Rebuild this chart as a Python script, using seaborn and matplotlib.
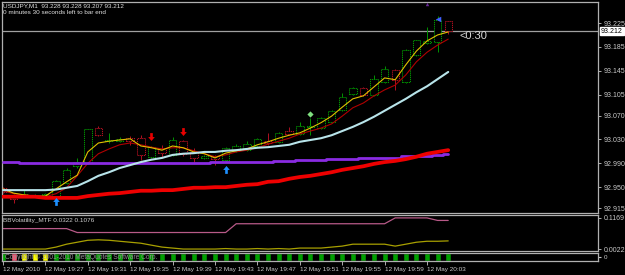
import numpy as np
import pandas as pd
import matplotlib
matplotlib.use("Agg")
import matplotlib.pyplot as plt
import seaborn as sns
from matplotlib.path import Path

# ---- data (USDJPY M1, 19:23 .. 20:05) ----
opens = [92.949, 92.937, 92.935, 92.935, 92.937, 92.935, 92.957, 92.985, 92.990, 93.049,
         93.028, 93.027, 93.032, 93.032, 93.001, 93.016, 93.004, 93.027, 93.009, 92.999,
         93.002, 92.996, 93.011, 93.012, 93.019, 93.027, 93.026, 93.044, 93.039, 93.051,
         93.049, 93.059, 93.079, 93.106, 93.116, 93.104, 93.126, 93.146, 93.126, 93.171,
         93.191, 93.193, 93.228]
highs = [92.950, 92.939, 92.945, 92.939, 92.940, 92.962, 92.982, 92.999, 93.047, 93.052,
         93.041, 93.034, 93.036, 93.037, 93.019, 93.021, 93.034, 93.029, 93.016, 93.004,
         93.004, 93.017, 93.022, 93.027, 93.032, 93.041, 93.042, 93.051, 93.059, 93.066,
         93.068, 93.079, 93.108, 93.118, 93.118, 93.138, 93.153, 93.148, 93.181, 93.197,
         93.218, 93.237, 93.228]
lows = [92.940, 92.924, 92.934, 92.934, 92.935, 92.934, 92.955, 92.982, 92.989, 93.036,
        93.024, 93.026, 93.021, 92.996, 92.999, 93.001, 93.002, 93.002, 92.992, 92.997,
        92.987, 92.992, 93.009, 93.011, 93.017, 93.021, 93.024, 93.037, 93.037, 93.037,
        93.047, 93.058, 93.078, 93.104, 93.103, 93.103, 93.125, 93.113, 93.125, 93.170,
        93.190, 93.176, 93.207]
closes = [92.942, 92.930, 92.939, 92.936, 92.939, 92.960, 92.979, 92.992, 93.047, 93.037,
          93.029, 93.031, 93.027, 93.004, 93.017, 93.007, 93.029, 93.006, 92.999, 93.002,
          92.997, 93.016, 93.019, 93.022, 93.031, 93.024, 93.041, 93.039, 93.052, 93.052,
          93.066, 93.078, 93.101, 93.116, 93.104, 93.131, 93.148, 93.130, 93.180, 93.197,
          93.195, 93.230, 93.212]

ma_fast = [92.947, 92.940, 92.937, 92.935, 92.935, 92.947, 92.959, 92.970, 93.009, 93.024,
           93.027, 93.029, 93.031, 93.019, 93.016, 93.012, 93.019, 93.016, 93.009, 93.006,
           92.999, 93.007, 93.011, 93.014, 93.021, 93.026, 93.032, 93.037, 93.041, 93.049,
           93.058, 93.069, 93.084, 93.098, 93.103, 93.118, 93.133, 93.130, 93.155, 93.178,
           93.195, 93.205, 93.210]
ma_mid = [92.944, 92.939, 92.937, 92.935, 92.934, 92.939, 92.949, 92.969, 92.990, 93.006,
          93.014, 93.021, 93.024, 93.021, 93.017, 93.014, 93.016, 93.016, 93.011, 93.006,
          93.001, 93.004, 93.009, 93.012, 93.016, 93.022, 93.027, 93.032, 93.039, 93.044,
          93.049, 93.056, 93.069, 93.083, 93.091, 93.103, 93.113, 93.121, 93.138, 93.160,
          93.176, 93.188, 93.198]
ma_slow = [92.945, 92.945, 92.945, 92.945, 92.945, 92.946, 92.949, 92.952, 92.960, 92.969,
           92.975, 92.982, 92.987, 92.992, 92.996, 92.999, 93.004, 93.006, 93.007, 93.009,
           93.009, 93.011, 93.012, 93.014, 93.016, 93.017, 93.019, 93.021, 93.026, 93.029,
           93.032, 93.037, 93.044, 93.051, 93.059, 93.068, 93.078, 93.088, 93.098, 93.109,
           93.119, 93.131, 93.143]
ma_htf = [92.992, 92.992, 92.990, 92.990, 92.990, 92.990, 92.990, 92.990, 92.990, 92.990,
          92.990, 92.990, 92.990, 92.990, 92.990, 92.990, 92.990, 92.990, 92.990, 92.990,
          92.992, 92.992, 92.992, 92.992, 92.992, 92.992, 92.994, 92.994, 92.996, 92.996,
          92.996, 92.997, 92.997, 92.997, 92.999, 92.999, 92.999, 92.999, 93.002, 93.002,
          93.002, 93.004, 93.006]
ma_long = [92.934, 92.934, 92.934, 92.934, 92.932, 92.932, 92.932, 92.932, 92.935, 92.937,
           92.939, 92.940, 92.942, 92.944, 92.944, 92.945, 92.945, 92.947, 92.949, 92.949,
           92.950, 92.950, 92.952, 92.954, 92.955, 92.959, 92.960, 92.964, 92.967, 92.969,
           92.972, 92.975, 92.979, 92.982, 92.985, 92.989, 92.992, 92.994, 92.997, 93.001,
           93.006, 93.009, 93.012]

bbv_upper = [0.0775] * 7 + [0.0631] * 15 + [0.0954] * 15 + [0.1169] * 4 + [0.1076] * 2
bbv_lower = [0.0022, 0.0022, 0.0022, 0.0022, 0.0022, 0.0094, 0.0201, 0.0273, 0.0345, 0.0362,
             0.0345, 0.0309, 0.0273, 0.0237, 0.0165, 0.0094, 0.0058, 0.0022, 0.0022, 0.0022,
             0.0022, 0.0040, 0.0022, 0.0022, 0.0040, 0.0022, 0.0040, 0.0022, 0.0058, 0.0058,
             0.0058, 0.0094, 0.0130, 0.0201, 0.0201, 0.0201, 0.0201, 0.0130, 0.0201, 0.0273,
             0.0309, 0.0309, 0.0322]

block_colors = ['#00a000', '#ff5070', '#ffff00', '#ffff00', '#ffff00'] + ['#00a000'] * 38

sell_bars = [14, 17]
sell_prices = [93.034, 93.043]
buy_bars = [5, 21]
buy_prices = [92.927, 92.980]

price_ticks = [93.225, 93.185, 93.145, 93.105, 93.070, 93.030, 92.990, 92.950, 92.915]
bid = 93.212
time_bars = [0, 4, 8, 12, 16, 20, 24, 28, 32, 36, 40]
time_labels = ['12 May 2010', '12 May 19:27', '12 May 19:31', '12 May 19:35', '12 May 19:39',
               '12 May 19:43', '12 May 19:47', '12 May 19:51', '12 May 19:55', '12 May 19:59',
               '12 May 20:03']

# ---- style ----
sns.set_style("dark", {"axes.facecolor": "black", "figure.facecolor": "black"})
plt.rcParams['font.family'] = ['Liberation Sans', 'DejaVu Sans']

W, H = 625, 275
FG = '#c8c8c8'
fig = plt.figure(figsize=(W / 100, H / 100), dpi=100, facecolor='black')


def panel(left, top, right, bottom):
    a = fig.add_axes([left / W, 1 - bottom / H, (right - left) / W, (bottom - top) / H])
    a.set_facecolor('black')
    for s in a.spines.values():
        s.set_color('#b0b0b0')
        s.set_linewidth(0.9)
        s.set_visible(True)
    a.set_xlim(-0.094, 56.13)
    a.grid(False)
    return a


ax = panel(2, 2, 598, 213)
ax_ind = panel(2, 215, 598, 251)
ax_blk = panel(2, 253, 598, 261)

bars = np.arange(len(opens))
o, c = np.array(opens), np.array(closes)
cols = np.where(c >= o, '#009400', '#b01020')

# candles
ax.vlines(bars, lows, highs, colors=cols, lw=0.7, zorder=2)
ax.bar(bars, np.maximum(np.abs(c - o), 0.0004), bottom=np.minimum(o, c), width=0.7,
       facecolor='black', edgecolor=cols, linewidth=0.75, linestyle=(0, (1.2, 0.8)), zorder=2.5)

# moving averages
sns.lineplot(x=bars, y=ma_long, ax=ax, color='#ee0000', lw=2.7, zorder=5, legend=False)
sns.lineplot(x=bars, y=ma_htf, ax=ax, color='#8a2be2', lw=2.0, drawstyle='steps-mid',
             zorder=4, legend=False)
sns.lineplot(x=bars, y=ma_slow, ax=ax, color='#b8e4ea', lw=1.5, zorder=4, legend=False)
sns.lineplot(x=bars, y=ma_mid, ax=ax, color='#b00000', lw=0.8, zorder=3, legend=False)
sns.lineplot(x=bars, y=ma_fast, ax=ax, color='#e0c000', lw=0.8, zorder=3.2, legend=False)

# signal arrows
down = Path([(-0.3, 1), (0.3, 1), (0.3, 0.1), (0.75, 0.1), (0, -0.8), (-0.75, 0.1),
             (-0.3, 0.1), (-0.3, 1)], closed=True)
up = Path([(-0.3, -1), (0.3, -1), (0.3, -0.1), (0.75, -0.1), (0, 0.8), (-0.75, -0.1),
           (-0.3, -0.1), (-0.3, -1)], closed=True)
ax.scatter(sell_bars, sell_prices, marker=down, s=40, color='#e80000', zorder=6, lw=0)
ax.scatter(buy_bars, buy_prices, marker=up, s=40, color='#1e90ff', zorder=6, lw=0)
ax.scatter([29], [93.073], marker='D', s=10, color='#80e080', zorder=6, lw=0)
ax.scatter([41], [93.232], marker='<', s=16, color='#4060ff', zorder=6, lw=0)
ax.scatter([40], [93.257], marker='^', s=6, color='#6a2a9a', zorder=6, lw=0)

ax.axhline(bid, color='#a0a0a0', lw=0.9, zorder=1)
ax.set_ylim(92.9067, 93.2602)
ax.set_xticks([])
ax.yaxis.tick_right()
ax.set_yticks(price_ticks)
ax.set_yticklabels([f'{v:.3f}' for v in price_ticks])
ax.tick_params(axis='y', colors=FG, labelsize=5, length=2, width=0.6, pad=2, right=True, left=False)

# indicator panel
sns.lineplot(x=bars, y=bbv_upper, ax=ax_ind, color='#b85a88', lw=0.9, legend=False)
sns.lineplot(x=bars, y=bbv_lower, ax=ax_ind, color='#a8a000', lw=0.9, legend=False)
ax_ind.set_ylim(-0.0050, 0.1276)
ax_ind.set_xticks([])
ax_ind.yaxis.tick_right()
ax_ind.set_yticks([0.1169, 0.0022])
ax_ind.set_yticklabels(['0.1169', '0.0022'])
ax_ind.tick_params(axis='y', colors=FG, labelsize=5, length=2, width=0.6, pad=2, right=True, left=False)
ax_ind.spines['bottom'].set_linestyle((0, (2, 1)))

# block indicator panel
ax_blk.bar(bars, 0.7, bottom=0.15, width=0.38, color=block_colors, edgecolor=block_colors,
           linewidth=0.4)
ax_blk.set_ylim(0, 1)
ax_blk.set_yticks([0.5])
ax_blk.set_yticklabels(['0'])
ax_blk.yaxis.tick_right()
ax_blk.tick_params(axis='y', colors=FG, labelsize=4.5, length=2, pad=2, right=True, left=False)
ax_blk.set_xticks(time_bars)
ax_blk.set_xticklabels(time_labels, ha='left')
ax_blk.tick_params(axis='x', colors=FG, labelsize=4.6, length=3, width=0.6, pad=1, bottom=True)


def ftext(x, y, s, **kw):
    fig.text(x / W, 1 - y / H, s, va='center', ha='left', **kw)


ftext(3, 6, 'USDJPY,M1  93.228 93.228 93.207 93.212', color='#e0e0e0', fontsize=4.6)
ftext(3, 13, '0 minutes 30 seconds left to bar end', color='#e0e0e0', fontsize=4.6)
ftext(3, 220.5, 'BBVolatility_MTF 0.0322 0.1076', color='#d0d0d0', fontsize=4.6)
ftext(460, 36, '<0:30', color='#d8d8d8', fontsize=8)
ftext(5, 257.5, 'Copyright \u00a9 2001-2010 MetaQuotes Software Corp.', color='#909090',
      fontsize=4.8, zorder=10)
ftext(601, 31, f'{bid:.3f}', color='black', fontsize=5,
      bbox=dict(facecolor='white', edgecolor='white', pad=0.6))

fig.savefig('out.png', dpi=100, facecolor='black')
plt.close()
